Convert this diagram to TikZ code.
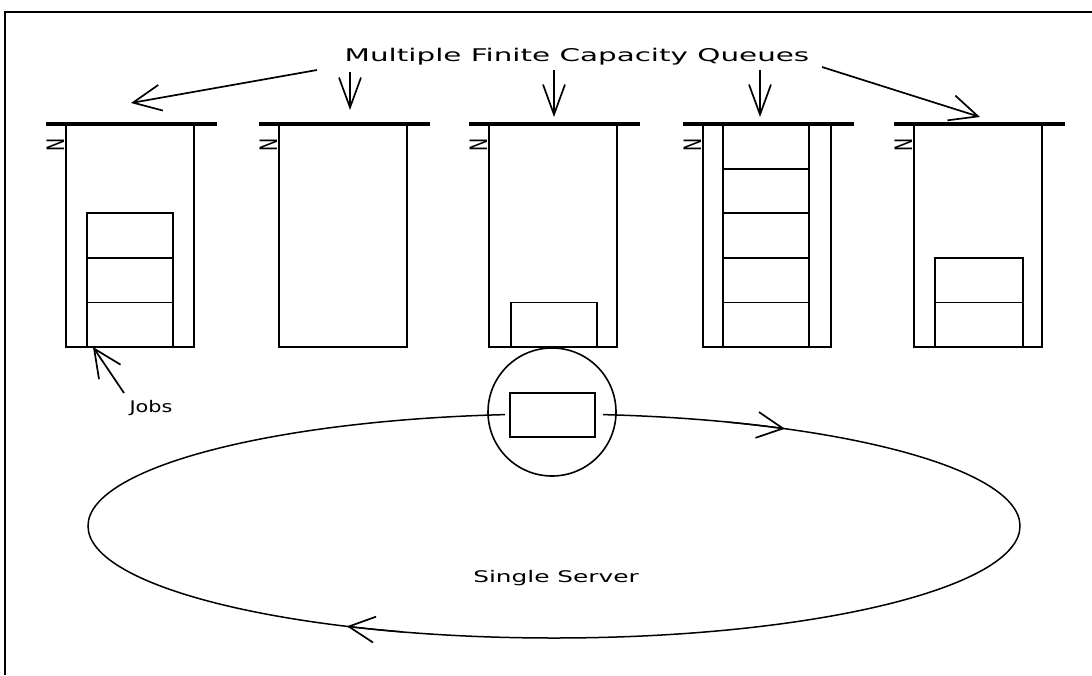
\documentclass[tikz,border=0pt]{standalone}
\usepackage{fontspec}
\setmainfont{DejaVu Sans}
\usepackage{graphicx}
\usetikzlibrary{arrows.meta}
\begin{document}
\begin{tikzpicture}[x=1pt,y=-1pt,
  qbody/.style={draw, line width=1.8pt, minimum width=128pt, minimum height=223pt, inner sep=0pt, outer sep=0pt, anchor=north west},
  bar/.style={line width=3.2pt},
  job/.style={draw, line width=1.8pt, minimum width=86pt, minimum height=44.6pt, inner sep=0pt, outer sep=0pt, anchor=south west},
  nlab/.style={inner sep=0pt, anchor=east, font=\fontsize{16}{16}\selectfont},
  barb/.style={line width=1.7pt, -{Straight Barb[length=28pt,width=26pt,line width=1.7pt]}},
  dbarb/.style={line width=1.7pt, -{Straight Barb[length=30pt,width=22pt,line width=1.7pt]}},
  ring/.style={line width=1.5pt},
  lbl/.style={inner sep=0pt}
]
\useasboundingbox (0,0) rectangle (1092,675);
\fill[white] (0,0) rectangle (1092,675);
% frame
\draw[line width=2pt] (5,675) -- (5,12) -- (1092,12);

% queue bodies
\foreach \n/\x in {1/66, 2/279, 3/489, 4/703, 5/914}{
  \node[qbody] (q\n) at (\x,124) {};
}

% jobs
\node[job] (j1a) at ([xshift=21pt]q1.south west) {};
\node[job] (j1b) at (j1a.north west) {};
\node[job] (j1c) at (j1b.north west) {};

\node[job] (j3a) at ([xshift=22pt]q3.south west) {};

\node[job] (j4a) at ([xshift=20pt]q4.south west) {};
\node[job] (j4b) at (j4a.north west) {};
\node[job] (j4c) at (j4b.north west) {};
\node[job] (j4d) at (j4c.north west) {};
\node[job] (j4e) at (j4d.north west) {};

\node[job, minimum width=88pt] (j5a) at ([xshift=21pt]q5.south west) {};
\node[job, minimum width=88pt] (j5b) at (j5a.north west) {};

% bars and N labels
\foreach \n in {1,...,5}{
  \draw[bar] ([xshift=-20pt]q\n.north west) -- ([xshift=23pt]q\n.north east);
  \node[nlab] (n\n) at ([xshift=-1.5pt,yshift=-21pt]q\n.north west) {\rotatebox{90}{\scalebox{1.1}[1.5]{N}}};
}

% title and arrows
\node[lbl, font=\fontsize{17.5}{18}\selectfont] (title) at (577,57) {\scalebox{1.68}[1]{Multiple Finite Capacity Queues}};
\coordinate (a1s) at (317,70);  \coordinate (a1e) at (131,103);
\coordinate (a2s) at (350,72);  \coordinate (a2e) at (350,110);
\coordinate (a3s) at (554,70);  \coordinate (a3e) at (554,117);
\coordinate (a4s) at (760,70);  \coordinate (a4e) at (760,117);
\coordinate (a5s) at (822,67);  \coordinate (a5e) at (980,117);
\draw[barb] (a1s) -- (a1e);
\draw[dbarb] (a2s) -- (a2e);
\draw[dbarb] (a3s) -- (a3e);
\draw[dbarb] (a4s) -- (a4e);
\draw[barb] (a5s) -- (a5e);

% jobs label
\node[lbl, font=\fontsize{16}{16}\selectfont] (jobs) at (151,408) {\scalebox{1.3}[1]{Jobs}};
\coordinate (jt) at (124,393);
\draw[barb] (jt) -- ([xshift=6pt]j1a.south west);

% ring
\draw[ring] (554,526) ellipse [x radius=466pt, y radius=112pt];
\fill[white] (505,404) rectangle (603,425);
\node[circle, draw, line width=1.6pt, minimum size=128pt, inner sep=0pt] (srv) at (552,412) {};
\node[draw, line width=1.8pt, minimum width=85pt, minimum height=44pt, inner sep=0pt] (sbox) at (552.5,415) {};
\draw[ring, -{Straight Barb[length=26pt,width=26pt,line width=1.7pt]}] plot[domain=-68:-60.3, samples=12] ({554+466*cos(\x)},{526+112*sin(\x)});
\draw[ring, -{Straight Barb[length=26pt,width=26pt,line width=1.7pt]}] plot[domain=109:116.4, samples=12] ({554+466*cos(\x)},{526+112*sin(\x)});

\node[lbl, font=\fontsize{16}{16}\selectfont] (single) at (556,578) {\scalebox{1.55}[1]{Single Server}};
\end{tikzpicture}
\end{document}
